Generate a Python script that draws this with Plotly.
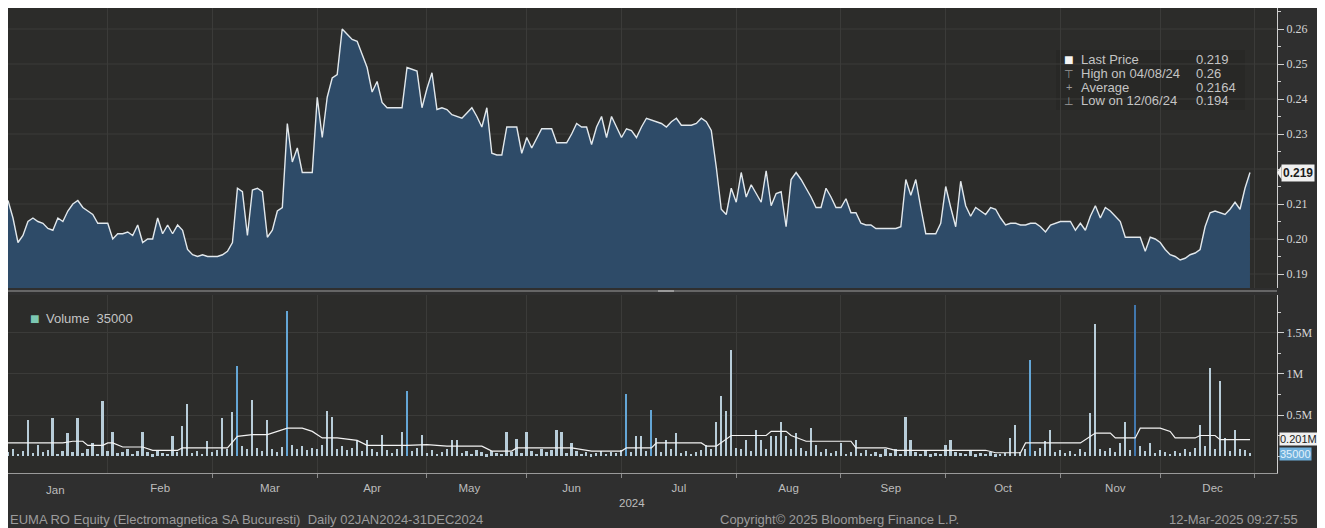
import pandas as pd
import plotly.graph_objects as go

# ---------------- data ----------------
HOLIDAYS = ["2024-01-24", "2024-05-01", "2024-05-03", "2024-05-06", "2024-06-24",
            "2024-08-15", "2024-11-29", "2024-12-24", "2024-12-25", "2024-12-26"]
DATES = [d.strftime("%Y-%m-%d") for d in
         pd.bdate_range("2024-01-03", "2024-12-31", freq="C", holidays=HOLIDAYS)]

PRICE = (
    # Jan
    [0.211, 0.206, 0.199, 0.201, 0.205, 0.206, 0.205, 0.2045, 0.203, 0.2025,
     0.206, 0.205, 0.208, 0.210, 0.211, 0.209, 0.208, 0.207, 0.2045, 0.2045]
    # Feb
    + [0.2045, 0.200, 0.2015, 0.2015, 0.202, 0.201, 0.204, 0.199, 0.200, 0.200, 0.206,
       0.2015, 0.204, 0.2015, 0.204, 0.2025, 0.197, 0.1955, 0.195, 0.1955, 0.195]
    # Mar
    + [0.195, 0.195, 0.1955, 0.1965, 0.199, 0.2145, 0.2135, 0.201, 0.214, 0.2145, 0.2135,
       0.2005, 0.2025, 0.208, 0.209, 0.233, 0.222, 0.226, 0.219, 0.219, 0.219]
    # Apr
    + [0.2405, 0.229, 0.2405, 0.246, 0.247, 0.260, 0.2585, 0.257, 0.2565, 0.253, 0.249,
       0.242, 0.245, 0.239, 0.2375, 0.2375, 0.2375, 0.2375, 0.249, 0.2485, 0.248, 0.2375]
    # May
    + [0.243, 0.2475, 0.237, 0.2375, 0.237, 0.2355, 0.235, 0.2345, 0.236, 0.2375,
       0.235, 0.232, 0.2375, 0.2245, 0.224, 0.224, 0.232, 0.232, 0.232, 0.2245]
    # Jun
    + [0.229, 0.226, 0.229, 0.2315, 0.2315, 0.2315, 0.2275, 0.2275, 0.2275, 0.230,
       0.233, 0.232, 0.232, 0.227, 0.232, 0.235, 0.229, 0.235, 0.232]
    # Jul
    + [0.229, 0.2315, 0.231, 0.229, 0.232, 0.2345, 0.234, 0.2335, 0.233, 0.232, 0.2335, 0.2345,
       0.2325, 0.2325, 0.2325, 0.233, 0.2345, 0.2335, 0.231, 0.2205, 0.2085, 0.207, 0.2145]
    # Aug
    + [0.2105, 0.219, 0.212, 0.2155, 0.213, 0.2105, 0.2195, 0.2095, 0.213, 0.2135, 0.2035,
       0.217, 0.219, 0.217, 0.2145, 0.212, 0.209, 0.209, 0.2145, 0.212, 0.209]
    # Sep
    + [0.209, 0.2115, 0.2075, 0.2075, 0.2045, 0.204, 0.204, 0.203, 0.203, 0.203, 0.203,
       0.203, 0.2035, 0.217, 0.2125, 0.217, 0.209, 0.2015, 0.2015, 0.2015, 0.2045]
    # Oct
    + [0.215, 0.209, 0.2035, 0.2165, 0.2095, 0.2065, 0.209, 0.208, 0.207, 0.209, 0.2085, 0.206,
       0.204, 0.2045, 0.2045, 0.204, 0.204, 0.2045, 0.2045, 0.2035, 0.202, 0.204, 0.2045]
    # Nov
    + [0.205, 0.205, 0.205, 0.2025, 0.2045, 0.2025, 0.2065, 0.2095, 0.206, 0.209,
       0.208, 0.2065, 0.205, 0.2005, 0.2005, 0.2005, 0.2005, 0.1965, 0.2005, 0.200]
    # Dec
    + [0.199, 0.197, 0.1955, 0.195, 0.194, 0.1945, 0.1955, 0.196, 0.197, 0.2035,
       0.2075, 0.208, 0.2075, 0.207, 0.2085, 0.2105, 0.2085, 0.2145, 0.219]
)

VOLUME_M = (  # millions of shares
    # Jan
    [0.05, 0.08, 0.03, 0.06, 0.44, 0.04, 0.13, 0.05, 0.07, 0.46,
     0.03, 0.06, 0.28, 0.05, 0.46, 0.04, 0.09, 0.16, 0.03, 0.67]
    # Feb
    + [0.06, 0.29, 0.04, 0.05, 0.08, 0.03, 0.06, 0.29, 0.05, 0.02, 0.07,
       0.04, 0.03, 0.24, 0.05, 0.36, 0.64, 0.04, 0.06, 0.03, 0.18]
    # Mar
    + [0.05, 0.07, 0.46, 0.08, 0.54, 1.10, 0.12, 0.09, 0.68, 0.10, 0.06,
       0.44, 0.08, 0.05, 0.11, 1.77, 0.14, 0.09, 0.12, 0.07, 0.10]
    # Apr
    + [0.08, 0.13, 0.55, 0.48, 0.09, 0.12, 0.07, 0.10, 0.19, 0.06, 0.19,
       0.08, 0.05, 0.26, 0.07, 0.04, 0.09, 0.29, 0.79, 0.06, 0.10, 0.26]
    # May
    + [0.04, 0.07, 0.03, 0.05, 0.08, 0.19, 0.19, 0.04, 0.06, 0.03,
       0.07, 0.05, 0.02, 0.06, 0.04, 0.03, 0.29, 0.05, 0.21, 0.04]
    # Jun
    + [0.29, 0.06, 0.03, 0.08, 0.05, 0.07, 0.32, 0.29, 0.04, 0.16,
       0.06, 0.03, 0.05, 0.02, 0.04, 0.06, 0.03, 0.05, 0.04]
    # Jul
    + [0.07, 0.76, 0.05, 0.25, 0.24, 0.06, 0.56, 0.22, 0.05, 0.20, 0.08, 0.28,
       0.04, 0.06, 0.03, 0.05, 0.07, 0.13, 0.09, 0.42, 0.73, 0.55, 1.29]
    # Aug
    + [0.10, 0.08, 0.19, 0.06, 0.32, 0.19, 0.09, 0.25, 0.25, 0.42, 0.24,
       0.08, 0.28, 0.10, 0.06, 0.34, 0.13, 0.05, 0.08, 0.04, 0.06]
    # Sep
    + [0.16, 0.03, 0.05, 0.19, 0.04, 0.07, 0.03, 0.05, 0.02, 0.09, 0.04,
       0.09, 0.03, 0.48, 0.19, 0.05, 0.03, 0.06, 0.02, 0.04, 0.03]
    # Oct
    + [0.13, 0.19, 0.05, 0.04, 0.03, 0.06, 0.02, 0.04, 0.03, 0.05, 0.02, 0.03,
       0.04, 0.22, 0.38, 0.05, 0.08, 1.17, 0.06, 0.10, 0.18, 0.32, 0.05]
    # Nov
    + [0.07, 0.04, 0.06, 0.03, 0.08, 0.05, 0.52, 1.61, 0.09, 0.06,
       0.10, 0.05, 0.16, 0.42, 0.07, 1.84, 0.12, 0.06, 0.16, 0.04]
    # Dec
    + [0.07, 0.05, 0.03, 0.06, 0.04, 0.08, 0.05, 0.10, 0.38, 0.12,
       1.07, 0.08, 0.91, 0.22, 0.06, 0.32, 0.09, 0.07, 0.035]
)

# moving average of volume (read at trading-day positions)
MA_DAY = [0, 11, 13, 15, 16, 19, 20, 21, 23, 27, 29, 34, 35, 44, 46, 49, 52, 56, 59, 61,
          63, 66, 70, 72, 80, 84, 88, 95, 97, 101, 102, 113, 117, 123, 124, 129, 130, 139,
          140, 142, 145, 152, 153, 156, 157, 160, 169, 170, 176, 178, 196, 198, 203, 204,
          215, 216, 218, 221, 222, 226, 227, 231, 233, 234, 238, 239, 242, 243, 249]
MA_VALUE = [0.16, 0.16, 0.18, 0.18, 0.13, 0.13, 0.16, 0.16, 0.11, 0.11, 0.07, 0.07, 0.10,
            0.10, 0.24, 0.26, 0.26, 0.34, 0.34, 0.30, 0.22, 0.22, 0.19, 0.13, 0.13, 0.14,
            0.12, 0.12, 0.06, 0.06, 0.10, 0.10, 0.06, 0.06, 0.10, 0.10, 0.16, 0.16, 0.12,
            0.12, 0.25, 0.25, 0.30, 0.30, 0.25, 0.18, 0.18, 0.10, 0.10, 0.07, 0.07, 0.04,
            0.04, 0.16, 0.16, 0.20, 0.28, 0.28, 0.22, 0.22, 0.34, 0.34, 0.30, 0.22, 0.22,
            0.25, 0.25, 0.20, 0.201]

BLUE_BAR_DAYS = [46, 56, 80, 124, 129, 205]
DARK_BAR_DAYS = [226]

PRICE_TICKS = [0.19, 0.20, 0.21, 0.23, 0.24, 0.25, 0.26]   # 0.22 hidden behind last-price tag
PRICE_GRID = [0.19, 0.20, 0.21, 0.22, 0.23, 0.24, 0.25, 0.26]
VOL_TICKS = [0.5, 1.0, 1.5]
VOL_TICK_TEXT = ["0.5M", "1M", "1.5M"]

LEGEND_LABELS = ["Last Price", "High on 04/08/24", "Average", "Low on 12/06/24"]
LEGEND_VALUES = ["0.219", "0.26", "0.2164", "0.194"]
LEGEND_GLYPHS = ["■", "⊤", "+", "⊥"]

assert len(DATES) == len(PRICE) == len(VOLUME_M) == 250
assert len(MA_DAY) == len(MA_VALUE)

# ---------------- geometry helpers (page pixels; page has an 8px white body margin) ----
OFF = 8
W, H = 1325 - OFF, 528 - OFF
PLOT_L, PLOT_R, PLOT_T, PLOT_B = 8, 1277, 8, 473     # page pixels
L, T = PLOT_L - OFF, PLOT_T - OFF
R = W - (PLOT_R - OFF)
B = H - (PLOT_B - OFF)
PW, PH = PLOT_R - PLOT_L, PLOT_B - PLOT_T


def px(x):
    return (x - PLOT_L) / PW


def py(y):
    return (PLOT_B - y) / PH


BG = "#2c2c2a"
GRID = "#3b3b39"
AXIS = "#cfcfcf"
TXT = "#c8c8c8"
LEG_FONT = 13

bar_colors = []
for i in range(len(VOLUME_M)):
    if i in DARK_BAR_DAYS:
        bar_colors.append("#4177ad")
    elif i in BLUE_BAR_DAYS:
        bar_colors.append("#64a6d6")
    else:
        bar_colors.append("#b8cdd9")

fig = go.Figure()
fig.add_trace(go.Scatter(
    x=DATES, y=PRICE, mode="lines", xaxis="x", yaxis="y",
    line=dict(color="#e2e8ec", width=1.4), fill="tozeroy", fillcolor="#2e4b68",
    hoverinfo="skip"))
fig.add_trace(go.Bar(
    x=DATES, y=VOLUME_M, xaxis="x2", yaxis="y2", marker_color=bar_colors,
    marker_line_width=0, width=0.36 * 86400000, hoverinfo="skip"))
fig.add_trace(go.Scatter(
    x=[DATES[i] for i in MA_DAY], y=MA_VALUE, mode="lines", xaxis="x2", yaxis="y2",
    line=dict(color="#f2f2f2", width=1.2), hoverinfo="skip"))

breaks = [dict(bounds=["sat", "mon"]), dict(values=HOLIDAYS)]
x_range = ["2024-01-03", "2025-01-07 10:00"]
price_dom = [py(288), 1.0]
vol_dom = [0.0, py(295)]

common_x = dict(rangebreaks=breaks, range=x_range, dtick="M1", tick0="2024-01-01",
                showgrid=True, gridcolor=GRID, gridwidth=1, zeroline=False)

fig.update_layout(
    width=W, height=H, margin=dict(l=L, r=R, t=T, b=B, pad=0),
    paper_bgcolor="#2f2f2f", plot_bgcolor=BG, showlegend=False,
    font=dict(family="Liberation Sans, Arial, sans-serif", color=TXT, size=11),
    xaxis=dict(anchor="y", domain=[0, 1], matches="x2", showticklabels=False,
               ticks="", **common_x),
    xaxis2=dict(anchor="y2", domain=[0, 1], ticklabelmode="period", tickformat="%b",
                ticks="outside", ticklen=4, tickcolor="#8c8c8c",
                showline=True, linecolor="#9a9a9a", linewidth=1,
                tickfont=dict(size=11.5, color="#bdbdbd"), **common_x),
    yaxis=dict(anchor="x", domain=price_dom, side="right", range=[0.186, 0.266],
               tickvals=PRICE_TICKS, tickformat=".2f", showline=True, linecolor=AXIS,
               linewidth=1, ticks="outside", ticklen=6, tickcolor=AXIS,
               minor=dict(dtick=0.005, tick0=0.185, ticks="outside", ticklen=3,
                          tickcolor=AXIS, showgrid=False),
               showgrid=False, zeroline=False,
               tickfont=dict(family="Liberation Serif, serif", size=12, color="#d6d6d6")),
    yaxis2=dict(anchor="x2", domain=vol_dom, side="right", range=[-0.207, 1.963],
                tickvals=VOL_TICKS, ticktext=VOL_TICK_TEXT, showline=True,
                linecolor=AXIS, linewidth=1, ticks="outside", ticklen=6, tickcolor=AXIS,
                minor=dict(dtick=0.25, tick0=0, ticks="outside", ticklen=3,
                           tickcolor=AXIS, showgrid=False),
                showgrid=True, gridcolor=GRID, zeroline=False,
                tickfont=dict(family="Liberation Serif, serif", size=12, color="#d6d6d6")),
    bargap=0,
)

shapes = [
    # panel separator
    dict(type="line", xref="paper", yref="paper", x0=px(7), x1=px(1277), y0=py(291),
         y1=py(291), line=dict(color="#666666", width=2)),
    dict(type="rect", xref="paper", yref="paper", x0=px(658), x1=px(674), y0=py(292),
         y1=py(290), fillcolor="#9a9a9a", line_width=0),
    # legend backdrop
    dict(type="rect", xref="paper", yref="paper", x0=px(1056), x1=px(1245), y0=py(110),
         y1=py(50), fillcolor="rgba(20,20,20,0.12)", line_width=0, layer="below"),
    # notch of the last-price tag
    dict(type="path", xref="paper", yref="y",
         path="M 1.0,0.219 L 1.0035,0.2209 L 1.0035,0.2171 Z",
         fillcolor="#f0f0f0", line_width=0),
]
# price grid lines (drawn under the area)
for v in PRICE_GRID:
    shapes.append(dict(type="line", xref="paper", yref="y", x0=0, x1=1, y0=v, y1=v,
                       line=dict(color=GRID, width=1), layer="below"))

ann = []
rows_y = [60, 73.5, 87, 100.5]
for g, lab, val, yy in zip(LEGEND_GLYPHS, LEGEND_LABELS, LEGEND_VALUES, rows_y):
    ann.append(dict(xref="paper", yref="paper", x=px(1069), y=py(yy), text=g,
                    showarrow=False, xanchor="center", yanchor="middle",
                    font=dict(size=16 if g == "■" else 11,
                              color="#f4f4f4" if g == "■" else "#9a9a9a")))
    ann.append(dict(xref="paper", yref="paper", x=px(1079), y=py(yy), text=lab,
                    showarrow=False, xanchor="left", yanchor="middle",
                    font=dict(size=LEG_FONT, color="#c4c4c4")))
    ann.append(dict(xref="paper", yref="paper", x=px(1194), y=py(yy), text=val,
                    showarrow=False, xanchor="left", yanchor="middle",
                    font=dict(size=LEG_FONT, color="#c4c4c4")))

# volume legend
ann.append(dict(xref="paper", yref="paper", x=px(35), y=py(318), text="■",
                showarrow=False, xanchor="center", yanchor="middle",
                font=dict(size=16, color="#7cc7b2")))
ann.append(dict(xref="paper", yref="paper", x=px(44), y=py(318), text="Volume  35000",
                showarrow=False, xanchor="left", yanchor="middle",
                font=dict(size=LEG_FONT, color="#c4c4c4")))

# "Jan" label (its period starts before the first trading day shown)
ann.append(dict(xref="paper", yref="paper", x=px(55), y=py(490), text="Jan",
                showarrow=False, xanchor="center", yanchor="middle",
                font=dict(size=11.5, color="#bdbdbd")))

# last value tags on the right axis
ann.append(dict(xref="paper", yref="y", x=1.0, y=PRICE[-1], text="<b>0.219</b>",
                showarrow=False, xanchor="left", yanchor="middle", xshift=4,
                bgcolor="#f0f0f0", borderpad=1,
                font=dict(family="Liberation Sans, Arial", size=12, color="#1c1c1c")))
ann.append(dict(xref="paper", yref="y2", x=1.0, y=MA_VALUE[-1], text="0.201M",
                showarrow=False, xanchor="left", yanchor="middle", xshift=2, yshift=1,
                bgcolor="#f0f0f0", borderpad=0,
                font=dict(family="Liberation Sans, Arial", size=11, color="#1c1c1c")))
ann.append(dict(xref="paper", yref="y2", x=1.0, y=VOLUME_M[-1], text="35000",
                showarrow=False, xanchor="left", yanchor="middle", xshift=2, yshift=-1,
                bgcolor="#6fb0dc", borderpad=0,
                font=dict(family="Liberation Sans, Arial", size=11, color="#e4f2fb")))

# year label and footer
ann.append(dict(xref="paper", yref="paper", x=px(632), y=py(503), text="2024",
                showarrow=False, xanchor="center", yanchor="middle",
                font=dict(size=11.5, color="#bdbdbd")))
FOOT = dict(showarrow=False, xanchor="left", yanchor="middle",
            font=dict(size=13, color="#9c9c9c"))
ann.append(dict(xref="paper", yref="paper", x=px(8), y=py(519),
                text="EUMA RO Equity (Electromagnetica SA Bucuresti)  Daily 02JAN2024-31DEC2024",
                **FOOT))
ann.append(dict(xref="paper", yref="paper", x=px(718), y=py(519),
                text="Copyright© 2025 Bloomberg Finance L.P.", **FOOT))
ann.append(dict(xref="paper", yref="paper", x=px(1167), y=py(519),
                text="12-Mar-2025 09:27:55", **FOOT))

fig.update_layout(shapes=shapes, annotations=ann)
fig.write_html("out.html")
